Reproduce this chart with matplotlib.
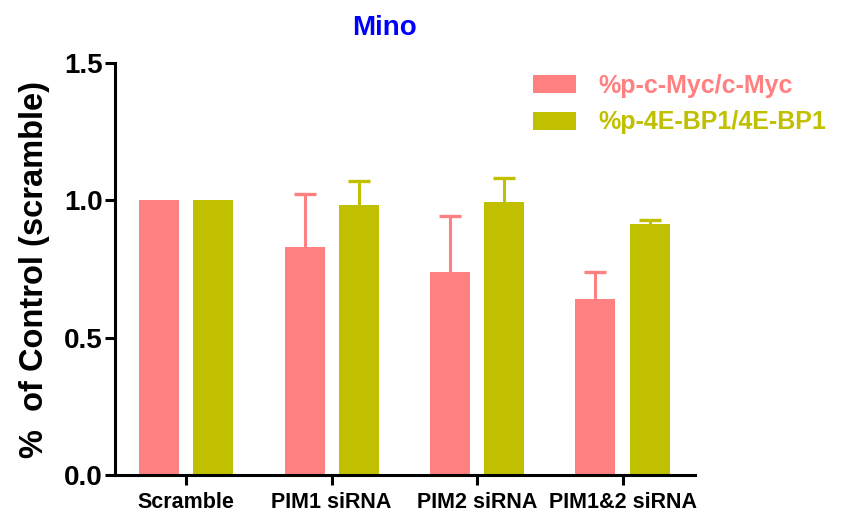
import numpy as np
import matplotlib.pyplot as plt
from matplotlib.patches import Patch

groups = ["Scramble", "PIM1 siRNA", "PIM2 siRNA", "PIM1&2 siRNA"]
myc = [1.0, 0.83, 0.74, 0.64]
myc_err = [0.0, 0.195, 0.205, 0.10]
bp1 = [1.0, 0.985, 0.995, 0.915]
bp1_err = [0.0, 0.087, 0.088, 0.012]
labels = ["%p-c-Myc/c-Myc", "%p-4E-BP1/4E-BP1"]
colors = ["#FF8080", "#C0C000"]

plt.rcParams['font.family'] = ['Liberation Sans', 'DejaVu Sans']
plt.rcParams['font.weight'] = 'bold'

fig = plt.figure(figsize=(8.51, 5.14), dpi=100)
ax = fig.add_axes([0.135, 0.076, 0.682, 0.801])

x = np.arange(len(groups))
w = 0.275
off = 0.186
for vals, errs, c, sign in [(myc, myc_err, colors[0], -1), (bp1, bp1_err, colors[1], 1)]:
    ax.bar(x + sign * off, vals, width=w, color=c, edgecolor='none', zorder=2)
    errs = np.array(errs)
    keep = errs > 0  # the scramble control has no error bar
    eb = ax.errorbar((x + sign * off)[keep], np.array(vals)[keep],
                     yerr=[np.zeros(keep.sum()), errs[keep]], fmt='none',
                     ecolor=c, elinewidth=2.2, capsize=8, capthick=2.4, zorder=1)
    # only the upper cap is shown
    eb[1][0].set_visible(False)

ax.set_xlim(-0.49, 3.5)
ax.set_ylim(0, 1.5)
ax.set_yticks([0.0, 0.5, 1.0, 1.5])
ax.set_yticklabels(["0.0", "0.5", "1.0", "1.5"], fontsize=20, fontweight='bold')
ax.set_xticks(x)
ax.set_xticklabels(groups, fontsize=15.5, fontweight='bold')
ax.tick_params(axis='both', width=2.2, length=7, pad=2)
ax.tick_params(axis='x', pad=5)
for s in ['top', 'right']:
    ax.spines[s].set_visible(False)
for s in ['left', 'bottom']:
    ax.spines[s].set_linewidth(2.2)

ax.set_ylabel("%  of Control (scramble)", fontsize=23.5, fontweight='bold', labelpad=10)
fig.text(0.452, 0.945, "Mino", color='#0000FF', fontsize=20, fontweight='bold',
         ha='center', va='center')

handles = [Patch(facecolor=c, edgecolor='none') for c in colors]
leg = fig.legend(handles, labels, loc='upper left', bbox_to_anchor=(533 / 851, 1 - 74 / 514),
                 frameon=False, fontsize=18, handlelength=1.7, handleheight=0.72,
                 handletextpad=0.9, labelspacing=0.5, borderpad=0, borderaxespad=0)
for t, c in zip(leg.get_texts(), colors):
    t.set_color(c)
    t.set_fontweight('bold')

fig.savefig("out.png", dpi=100)
